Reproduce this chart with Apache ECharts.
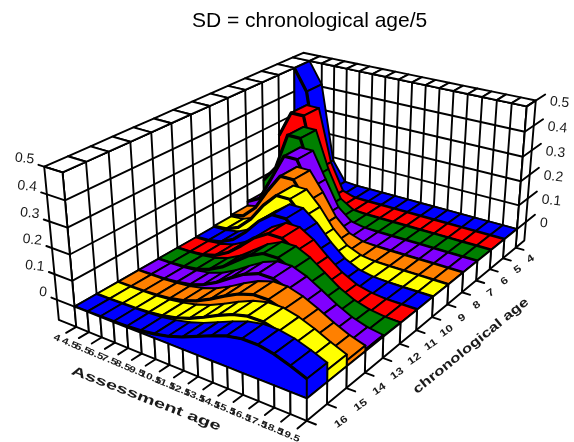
<!DOCTYPE html><html><head><meta charset="utf-8"><style>html,body{margin:0;background:#fff}#c{width:574px;height:442px}</style>
<script src="https://cdn.jsdelivr.net/npm/echarts@6/dist/echarts.min.js"></script></head><body><div id="c"></div><script>
const assessmentAges=['4','4.5','5.5','6.5','7.5','8.5','9.5','10.5','11.5','12.5','13.5','14.5','15.5','16.5','17.5','18.5','19.5'];
const chronologicalAges=['4','5','6','7','8','9','10','11','12','13','14','15','16'];
const zTicks=[0,0.1,0.2,0.3,0.4,0.5];
const zTickLabels=['0','0.1','0.2','0.3','0.4','0.5'];
const age4=[.499,.410,.086,.004,0,0,0,0,0,0,0,0,0,0,0,0,0];
const age5=[.242,.352,.352,.130,.018,.001,0,0,0,0,0,0,0,0,0,0,0];
const age6=[.083,.152,.305,.305,.152,.038,.005,0,0,0,0,0,0,0,0,0,0];
const age7=[.029,.058,.161,.267,.267,.161,.058,.013,.002,0,0,0,0,0,0,0,0];
const age8=[.011,.023,.074,.161,.237,.237,.161,.074,.023,.005,.001,0,0,0,0,0,0];
const age9=[.005,.010,.033,.084,.157,.213,.213,.157,.084,.033,.010,.002,0,0,0,0,0];
const age10=[.002,.005,.016,.043,.091,.151,.193,.193,.151,.091,.043,.016,.005,.001,0,0,0];
const age11=[.001,.002,.008,.022,.051,.095,.144,.177,.177,.144,.095,.051,.022,.008,.002,.001,0];
const age12=[.001,.001,.004,.012,.029,.057,.097,.137,.163,.163,.137,.097,.057,.029,.012,.004,.001];
const age13=[0,.001,.002,.007,.016,.034,.062,.097,.130,.151,.151,.130,.097,.062,.034,.016,.007];
const age14=[0,0,.001,.004,.010,.021,.039,.065,.096,.123,.140,.140,.123,.096,.065,.039,.021];
const age15=[0,0,.001,.002,.006,.013,.025,.043,.067,.094,.117,.131,.131,.117,.094,.067,.043];
const age16=[0,0,.001,.002,.004,.008,.016,.028,.046,.069,.092,.112,.123,.123,.112,.092,.069];
const rows=[age4,age5,age6,age7,age8,age9,age10,age11,age12,age13,age14,age15,age16];
const colours=['#0000ff','#ff0000','#008000','#8000ff','#ff8000','#ffff00'];
const steepColours=['#2626ff','#ff1a1a','#228b22','#9633ff','#ff9126','#ffff26'];
// camera of the 3-D box: world (age index, chron index, value*10) -> chart units
const cam=[9.67287,-19.2165,-2.40693,309.465,2.04759,5.5983,-22.8693,172.855,-0.00639239,-0.015302,-0.00786848];
const floorZ=-0.8,wallX=1.4,wallY=0.7,nx=assessmentAges.length-1,ny=chronologicalAges.length,topZ=5;
const view=(x,y,z)=>{const w=cam[8]*x+cam[9]*y+cam[10]*z+1;return [(cam[0]*x+cam[1]*y+cam[2]*z+cam[3])/w,(cam[4]*x+cam[5]*y+cam[6]*z+cam[7])/w];};
const LW=1.9,TEXT='#1a1a1a';
function poly(api,pts,fill){return {type:'polygon',shape:{points:pts.map(p=>api.coord(view(...p)))},style:{fill:fill,stroke:'#000',lineWidth:LW,lineJoin:'round'}};}
function line(api,a,b,w){const p=api.coord(view(...a)),q=api.coord(view(...b));return {type:'line',shape:{x1:p[0],y1:p[1],x2:q[0],y2:q[1]},style:{stroke:'#000',lineWidth:w||LW,lineCap:'round'}};}
function label(api,at,dx,dy,text,opt){const p=api.coord(view(...at));opt=opt||{};return {type:'text',x:p[0]+dx,y:p[1]+dy,rotation:(opt.rot||0)*Math.PI/180,scaleX:opt.sx||1,style:{text:text,font:opt.font||'14px "Liberation Sans"',fill:TEXT,align:opt.align||'center',verticalAlign:'middle'}};}
function renderWalls(p,api){const c=[];
 c.push(poly(api,[[0,0,floorZ],[0,ny,floorZ],[0,ny,topZ],[0,0,topZ]],'#fff'));
 c.push(poly(api,[[0,0,floorZ],[nx,0,floorZ],[nx,0,topZ],[0,0,topZ]],'#fff'));
 for(let y=0;y<=ny;y++)c.push(line(api,[0,y,floorZ],[0,y,topZ]));
 for(let x=0;x<=nx;x++)c.push(line(api,[x,0,floorZ],[x,0,topZ]));
 zTicks.forEach(v=>{const z=v*10;c.push(line(api,[0,0,z],[0,ny,z]),line(api,[0,0,z],[nx,0,z]));});
 for(let y=0;y<ny;y++)c.push(poly(api,[[-wallX,y,topZ],[0,y,topZ],[0,y+1,topZ],[-wallX,y+1,topZ]],'#fff'));
 c.push(poly(api,[[-wallX,-wallY,topZ],[0,-wallY,topZ],[0,0,topZ],[-wallX,0,topZ]],'#fff'));
 for(let x=0;x<nx;x++)c.push(poly(api,[[x,-wallY,topZ],[x+1,-wallY,topZ],[x+1,0,topZ],[x,0,topZ]],'#fff'));
 c.push(poly(api,[[-wallX,ny,floorZ],[0,ny,floorZ],[0,ny,topZ],[-wallX,ny,topZ]],'#fff'));
 c.push(poly(api,[[nx,-wallY,floorZ],[nx,0,floorZ],[nx,0,topZ],[nx,-wallY,topZ]],'#fff'));
 zTicks.forEach((v,i)=>{const z=v*10;
  c.push(line(api,[-wallX-0.45,ny,z],[0,ny,z]));
  c.push(line(api,[nx,-wallY-0.75,z],[nx,0,z]));
  c.push(label(api,[-wallX,ny,z],-10,-7,zTickLabels[i],{align:'right',rot:-6}));
  c.push(label(api,[nx,-wallY,z],14,1,zTickLabels[i],{align:'left',rot:-6}));
 });
 return {type:'group',children:c};}
function renderCell(p,api){const i=api.value(0),j=api.value(1),v=rows[i],a=v[j]*10,b=v[j+1]*10,steep=(v[j+1]-v[j])>0.04;
 return poly(api,[[j,i,a],[j+1,i,b],[j+1,i+1,b],[j,i+1,a]],(steep?steepColours:colours)[i%6]);}
function renderSides(p,api){const i=api.value(0),v=rows[i],pts=[[0,i+1,0]];v.forEach((h,x)=>pts.push([x,i+1,h*10]));pts.push([nx,i+1,0]);
 const h=v[nx]*10,edge=v.map((q,x)=>api.coord(view(x,i+1,q*10)));
 return {type:'group',children:[poly(api,pts,colours[i%6]),poly(api,[[nx,i,0],[nx,i+1,0],[nx,i+1,h],[nx,i,h]],colours[i%6]),
  {type:'polyline',shape:{points:edge},style:{fill:null,stroke:'#000',lineWidth:3.2,lineJoin:'round'}}]};}
function renderBase(p,api){const c=[];
 for(let x=0;x<nx;x++)c.push(poly(api,[[x,ny,floorZ],[x+1,ny,floorZ],[x+1,ny,0],[x,ny,0]],'#fff'));
 for(let y=0;y<ny;y++)c.push(poly(api,[[nx,y,floorZ],[nx,y+1,floorZ],[nx,y+1,0],[nx,y,0]],'#fff'));
 for(let x=0;x<=nx;x++)c.push(line(api,[x,ny,floorZ],[x,ny+0.45,floorZ]));
 for(let y=0;y<=ny;y++)c.push(line(api,[nx,y,floorZ],[nx+0.55,y,floorZ]));
 assessmentAges.forEach((t,x)=>c.push(label(api,[x,ny+0.85,floorZ],0,0,t,{font:'bold 9px "Liberation Sans"',rot:-22,sx:1.3})));
 chronologicalAges.forEach((t,y)=>c.push(label(api,[nx+1.45,y+0.5,floorZ],0,0,t,{font:'bold 10px "Liberation Sans"',rot:35,sx:1.25})));
 c.push({type:'text',x:api.coord([146,0])[0],y:api.coord([0,399])[1],rotation:-21*Math.PI/180,scaleX:1.55,style:{text:'Assessment age',font:'bold 13px "Liberation Sans"',fill:TEXT,align:'center',verticalAlign:'middle'}});
 c.push({type:'text',x:api.coord([471,0])[0],y:api.coord([0,346])[1],rotation:39*Math.PI/180,scaleX:1.3,style:{text:'chronological age',font:'bold 13px "Liberation Sans"',fill:TEXT,align:'center',verticalAlign:'middle'}});
 return {type:'group',children:c};}
const cells=[];rows.forEach((r,i)=>{for(let j=0;j<nx;j++)cells.push([i,j,'cell']);cells.push([i,-1,'side']);});
function renderRibbon(p,api){return api.value(1)<0?renderSides(p,api):renderCell(p,api);}
const chart=echarts.init(document.getElementById('c'));
const common={type:'custom',coordinateSystem:'cartesian2d',clip:false,silent:true,animation:false,progressive:0};
chart.setOption({animation:false,
 title:{text:'SD = chronological age/5',left:192,top:11,textStyle:{fontFamily:'Liberation Sans',fontSize:21,fontWeight:'normal',color:'#000'},padding:[0,0,0,0]},
 grid:{left:0,right:0,top:0,bottom:0},
 xAxis:{type:'value',min:0,max:574,show:false},
 yAxis:{type:'value',min:0,max:442,inverse:true,show:false},
 series:[
  {...common,data:[[0,0]],renderItem:renderWalls},
  {...common,data:cells,renderItem:renderRibbon,dimensions:['row','col',{name:'kind',type:'ordinal'}],encode:{x:0,y:1}},
  {...common,data:[[0,0]],renderItem:renderBase}
 ]});
</script></body></html>
